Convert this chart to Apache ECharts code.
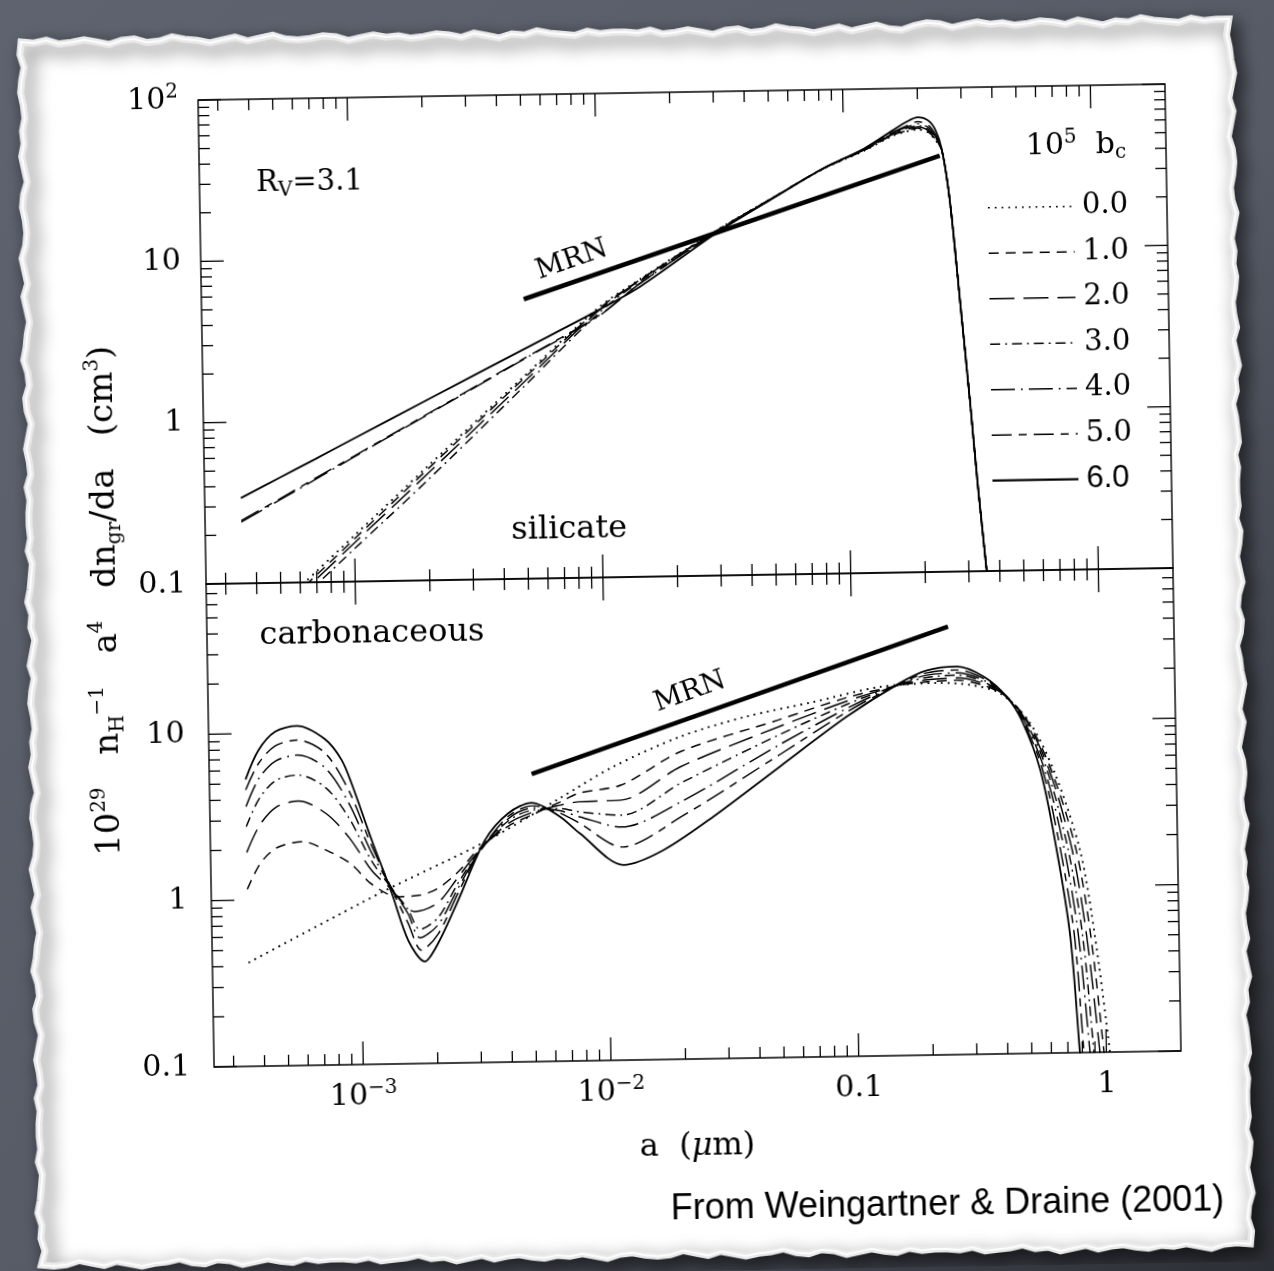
<!DOCTYPE html>
<html>
<head>
<meta charset="utf-8">
<title>Grain size distributions, R_V = 3.1</title>
<script src="https://cdn.jsdelivr.net/npm/echarts@6/dist/echarts.min.js"></script>
<style>
  html, body { margin: 0; padding: 0; width: 1274px; height: 1271px; overflow: hidden;
    background: linear-gradient(135deg, #5e636f 0%, #565b66 55%, #2c2f35 100%); }
  /* the whole sheet sits slightly askew */
  #chart { position: absolute; left: 0; top: 0; width: 1274px; height: 1271px;
    transform-origin: 690px 575px; transform: rotate(-0.95deg); }
</style>
</head>
<body>
<div id="chart"></div>
<script>
// ---------------- data ----------------
// values of 10^5 b_c (carbon abundance in very small grains)
const bcValues = ['0.0', '1.0', '2.0', '3.0', '4.0', '5.0', '6.0'];

// silicate: grain radius a (µm) and 10^29 n_H^-1 a^4 dn/da (cm^3)
const silA  = [3.5e-4, 5e-4, 7e-4, 1e-3, 2e-3, 5e-3, 0.01, 0.0148, 0.0306, 0.0523, 0.0828, 0.121, 0.158, 0.18, 0.2, 0.22, 0.235, 0.249, 0.266, 0.288, 0.311, 0.33, 0.355, 0.37];
const sil00 = [0.044, 0.073, 0.117, 0.193, 0.51, 1.82, 4.7, 7.0, 13.9, 22.0, 32.4, 41.5, 51.0, 54.0, 55.5, 53.0, 47.5, 41.0, 20.1, 4.8, 1.15, 0.35, 0.097, 0.05];
const sil10 = [0.042, 0.070, 0.111, 0.184, 0.49, 1.77, 4.6, 6.95, 13.85, 22.0, 32.5, 41.7, 51.5, 54.5, 56.5, 53.5, 48.0, 41.0, 20.1, 4.8, 1.15, 0.35, 0.097, 0.05];
const sil20 = [0.040, 0.065, 0.105, 0.174, 0.46, 1.68, 4.5, 6.9, 13.8, 22.0, 32.6, 41.9, 52.0, 55.5, 57.5, 54.5, 48.5, 41.0, 20.1, 4.8, 1.15, 0.35, 0.097, 0.05];
const sil30 = [0.037, 0.060, 0.097, 0.160, 0.42, 1.58, 4.35, 6.8, 13.7, 21.9, 32.6, 42.0, 52.5, 56.5, 58.5, 55.5, 49.0, 41.0, 20.1, 4.8, 1.15, 0.35, 0.097, 0.05];
const sil40 = [0.24, 0.325, 0.432, 0.588, 1.06, 2.31, 4.16, 6.6, 13.6, 21.9, 32.6, 42.2, 53.0, 57.5, 60.0, 57.0, 50.0, 41.2, 20.1, 4.8, 1.15, 0.35, 0.097, 0.05];
const sil50 = [0.245, 0.33, 0.44, 0.595, 1.07, 2.33, 4.2, 6.6, 13.6, 21.9, 32.7, 42.4, 53.5, 58.5, 62.0, 59.0, 51.5, 41.3, 20.1, 4.8, 1.15, 0.35, 0.097, 0.05];
const sil60 = [0.338, 0.446, 0.578, 0.764, 1.31, 2.66, 4.54, 6.3, 13.4, 21.8, 32.6, 42.8, 55.0, 62.0, 66.0, 63.0, 55.0, 41.5, 20.1, 4.8, 1.15, 0.35, 0.097, 0.05];

// carbonaceous: [a (µm), 10^29 n_H^-1 a^4 dn/da (cm^3)]
const carb00 = [[3.5e-4,0.42],[1.22e-3,1.08],[3.21e-3,2.12],[6.46e-3,3.8],[0.0107,5.82],[0.02,8.68],[0.0372,11.3],[0.0692,13.6],[0.1288,16.5],[0.2254,17.2],[0.3,16.6],[0.393,14.7],[0.51,10.0],[0.64,5.0],[0.807,1.65],[0.915,0.5],[1.034,0.1],[1.05,0.07]];
const carb10 = [[3.5e-4,1.16],[3.96e-4,1.65],[4.64e-4,2.05],[5.9e-4,2.21],[7.36e-4,1.95],[9.1e-4,1.63],[1.12e-3,1.2],[1.42e-3,1.01],[1.75e-3,1.03],[2.05e-3,1.12],[2.48e-3,1.4],[3.0e-3,1.9],[4.0e-3,2.62],[5.0e-3,3.05],[6.46e-3,3.6],[7.76e-3,4.07],[0.0115,4.51],[0.02,7.05],[0.05,10.7],[0.094,14.3],[0.155,16.8],[0.2,17.5],[0.264,17.8],[0.34,16.4],[0.418,14.0],[0.505,10.0],[0.627,5.0],[0.779,1.65],[0.881,0.5],[0.978,0.1],[0.995,0.07]];
const carb20 = [[3.5e-4,1.93],[3.96e-4,2.8],[4.64e-4,3.6],[5.7e-4,3.89],[7.36e-4,3.25],[9.1e-4,2.31],[1.12e-3,1.45],[1.35e-3,1.1],[1.5e-3,0.9],[1.65e-3,0.82],[2.05e-3,0.92],[2.48e-3,1.3],[3.0e-3,1.85],[4.0e-3,2.72],[5.0e-3,3.15],[6.46e-3,3.45],[7.76e-3,3.61],[0.0115,3.66],[0.02,5.73],[0.05,9.73],[0.094,13.6],[0.155,16.9],[0.2,18.0],[0.264,18.4],[0.34,16.8],[0.418,14.0],[0.50,10.0],[0.615,5.0],[0.751,1.65],[0.848,0.5],[0.942,0.1],[0.96,0.07]];
const carb30 = [[3.5e-4,2.76],[3.96e-4,4.05],[4.64e-4,5.2],[5.7e-4,5.57],[7.36e-4,4.65],[9.1e-4,3.04],[1.12e-3,1.65],[1.35e-3,1.12],[1.55e-3,0.85],[1.73e-3,0.64],[2.05e-3,0.75],[2.48e-3,1.2],[3.0e-3,1.82],[4.0e-3,2.82],[5.0e-3,3.25],[6.46e-3,3.3],[7.76e-3,3.14],[0.0115,2.97],[0.02,4.57],[0.05,8.68],[0.094,13.0],[0.155,17.0],[0.2,18.6],[0.264,19.1],[0.34,17.2],[0.418,14.0],[0.495,10.0],[0.603,5.0],[0.724,1.65],[0.817,0.5],[0.891,0.1],[0.905,0.07]];
const carb40 = [[3.5e-4,3.64],[3.96e-4,5.35],[4.64e-4,6.8],[5.7e-4,7.35],[7.36e-4,6.1],[9.1e-4,3.74],[1.12e-3,1.85],[1.35e-3,1.12],[1.55e-3,0.8],[1.73e-3,0.57],[2.05e-3,0.68],[2.48e-3,1.12],[3.0e-3,1.8],[4.0e-3,2.9],[5.0e-3,3.35],[6.46e-3,3.2],[7.76e-3,2.93],[0.0115,2.52],[0.02,3.53],[0.05,7.56],[0.094,12.3],[0.155,17.1],[0.2,19.2],[0.264,19.7],[0.34,17.6],[0.418,14.0],[0.49,10.0],[0.590,5.0],[0.699,1.65],[0.786,0.5],[0.859,0.1],[0.875,0.07]];
const carb50 = [[3.5e-4,4.59],[3.96e-4,6.6],[4.64e-4,8.4],[5.7e-4,9.04],[7.36e-4,7.5],[9.1e-4,4.48],[1.12e-3,2.05],[1.35e-3,1.1],[1.55e-3,0.7],[1.75e-3,0.48],[2.05e-3,0.6],[2.48e-3,1.05],[3.0e-3,1.78],[4.0e-3,3.0],[5.0e-3,3.45],[6.46e-3,3.1],[7.76e-3,2.68],[0.0115,1.91],[0.02,2.87],[0.05,6.58],[0.094,11.7],[0.155,17.2],[0.2,19.8],[0.264,20.5],[0.34,18.0],[0.418,14.0],[0.485,10.0],[0.579,5.0],[0.674,1.65],[0.757,0.5],[0.812,0.1],[0.826,0.07]];
const carb60 = [[3.5e-4,5.3],[3.96e-4,7.9],[4.64e-4,10.2],[5.68e-4,11.0],[7.36e-4,9.1],[8.57e-4,6.8],[9.37e-4,4.9],[1.12e-3,2.23],[1.337e-3,1.07],[1.55e-3,0.55],[1.8e-3,0.41],[2.05e-3,0.53],[2.48e-3,0.95],[3.21e-3,2.17],[4.0e-3,3.13],[4.98e-3,3.6],[6.46e-3,2.95],[7.76e-3,2.33],[0.0116,1.49],[0.0168,1.81],[0.0269,2.85],[0.0502,5.6],[0.0942,11.0],[0.155,17.3],[0.2,20.5],[0.264,21.5],[0.34,18.5],[0.418,14.0],[0.48,10.0],[0.566,5.0],[0.65,1.66],[0.728,0.5],[0.782,0.1],[0.795,0.07]];

// MRN power law (dn/da ∝ a^-3.5) in each panel
const mrnSil  = [[0.005, 5.4], [0.244, 38.0]];
const mrnCarb = [[0.005, 5.35], [0.245, 37.4]];

// axis ticks and their labels
const xMajorTicks = [1e-3, 1e-2, 0.1, 1];
const xTickLabels = ['10{sup|−3}', '10{sup|−2}', '0.1', '1'];
const xMinorTicks = [3e-4, 4e-4, 5e-4, 6e-4, 7e-4, 8e-4, 9e-4, 2e-3, 3e-3, 4e-3, 5e-3, 6e-3, 7e-3, 8e-3, 9e-3,
  0.02, 0.03, 0.04, 0.05, 0.06, 0.07, 0.08, 0.09, 0.2, 0.3, 0.4, 0.5, 0.6, 0.7, 0.8, 0.9];
const yMajorTicksTop = [0.1, 1, 10, 100];
const yTickLabelsTop = ['0.1', '1', '10', '10{sup|2}'];
const yMinorTicksTop = [0.2, 0.3, 0.4, 0.5, 0.6, 0.7, 0.8, 0.9, 2, 3, 4, 5, 6, 7, 8, 9, 20, 30, 40, 50, 60, 70, 80, 90];
const yMajorTicksBottom = [0.1, 1, 10];
const yTickLabelsBottom = ['0.1', '1', '10'];
const yMinorTicksBottom = [0.2, 0.3, 0.4, 0.5, 0.6, 0.7, 0.8, 0.9, 2, 3, 4, 5, 6, 7, 8, 9, 20, 30, 40, 50, 60, 70];

// ---------------- styling ----------------
const SERIF = 'DejaVu Serif';
const INK = '#000';
const dashFor = {
  '0.0': [1.8, 5],
  '1.0': [10, 7],
  '2.0': [25, 9],
  '3.0': [10, 5, 1.8, 5],
  '4.0': [24, 6, 1.8, 6],
  '5.0': [20, 7, 8, 7],
  '6.0': null
};
const G = { left: 206, width: 967, topTop: 92, topH: 484, botTop: 576, botH: 483 };

const supRich = {
  sup: { fontSize: 20, fontFamily: SERIF, color: INK, verticalAlign: 'top', lineHeight: 12 },
  sub: { fontSize: 20, fontFamily: SERIF, color: INK, verticalAlign: 'bottom', lineHeight: 10 },
  it:  { fontSize: 32, fontFamily: SERIF, color: INK, fontStyle: 'italic' }
};

function labelFor(ticks, labels) {
  return function (v) {
    const i = ticks.findIndex(t => Math.abs(Math.log10(t) - Math.log10(v)) < 1e-6);
    return i >= 0 ? labels[i] : '';
  };
}

function curve(name, data, gi) {
  const d = dashFor[name];
  return {
    type: 'line', name, xAxisIndex: gi, yAxisIndex: gi, data,
    symbol: 'none', showSymbol: false, smooth: 0.3, clip: true, silent: true, z: 3,
    lineStyle: { color: INK, width: name === '6.0' ? 1.8 : (name === '0.0' ? 1.9 : 1.45), type: d || 'solid' }
  };
}

function mrn(data, gi) {
  return { type: 'line', data, xAxisIndex: gi, yAxisIndex: gi, symbol: 'none', silent: true, z: 4,
    lineStyle: { color: INK, width: 4.5, cap: 'butt' } };
}

// tick marks drawn inward on all four sides of a panel
function xTicks(gi, ticks, major) {
  return {
    type: 'custom', xAxisIndex: gi, yAxisIndex: gi, silent: true, z: 5, clip: false,
    data: ticks.map(v => [v, 1]),
    renderItem(params, api) {
      const cs = params.coordSys;
      const x = api.coord([api.value(0), 1])[0];
      const len = major ? 23 : 11;
      const st = { stroke: INK, lineWidth: 1.3 };
      return { type: 'group', children: [
        { type: 'line', shape: { x1: x, y1: cs.y, x2: x, y2: cs.y + len }, style: st },
        { type: 'line', shape: { x1: x, y1: cs.y + cs.height, x2: x, y2: cs.y + cs.height - len }, style: st }
      ] };
    }
  };
}
function yTicks(gi, ticks, major) {
  return {
    type: 'custom', xAxisIndex: gi, yAxisIndex: gi, silent: true, z: 5, clip: false,
    data: ticks.map(v => [0.01, v]),
    renderItem(params, api) {
      const cs = params.coordSys;
      const y = api.coord([0.01, api.value(1)])[1];
      const len = major ? 23 : 11;
      const st = { stroke: INK, lineWidth: 1.3 };
      return { type: 'group', children: [
        { type: 'line', shape: { x1: cs.x, y1: y, x2: cs.x + len, y2: y }, style: st },
        { type: 'line', shape: { x1: cs.x + cs.width, y1: y, x2: cs.x + cs.width - len, y2: y }, style: st }
      ] };
    }
  };
}

// torn paper sheet: fine irregular edge
const EDGE_JITTER = [0, 1, -1, 2, 1, -1, 1, 3, 0, -1, 2, 1, -2, 0, 1, 3, 1, -1, 2, 0, -2, 1, 2, 1, -1, 0, 3, 1, -1, 1, 0, 2,
  1, -1, 0, 2, -1, 1, 3, 0, 1, -2, 0, 1, 2, -1, 1, 0];
function paperPoints() {
  const L = 30, R = 1238, T = 31, B = 1253, n = 96, pts = [];
  const J = i => EDGE_JITTER[i % EDGE_JITTER.length] * 1.3;
  for (let i = 0; i <= n; i++) pts.push([L + (R - L) * i / n, T + J(i) + (i > 70 ? -3 : 0)]);
  for (let i = 1; i <= n; i++) pts.push([R + J(i + 11), T + (B - T) * i / n]);
  for (let i = 1; i <= n; i++) pts.push([R - (R - L) * i / n, B + J(i + 23)]);
  for (let i = 1; i < n; i++) pts.push([L + J(i + 37), B - (B - T) * i / n]);
  return pts;
}

function txt(x, y, text, size, extra) {
  return Object.assign({ type: 'text', x, y, silent: true, z: 10,
    style: Object.assign({ text, fontSize: size, fontFamily: SERIF, fill: INK, lineHeight: size + 6,
      textAlign: 'center', textVerticalAlign: 'middle', rich: supRich }, extra && extra.style) },
    extra && extra.el);
}

const legendY0 = 212.7, legendStep = 45.5;
const legendEls = [];
bcValues.forEach((v, i) => {
  const y = legendY0 + i * legendStep;
  legendEls.push({ type: 'line', silent: true, z: 10,
    shape: { x1: 994, y1: y, x2: 1080, y2: y },
    style: { stroke: INK, lineWidth: v === '6.0' ? 2.2 : 1.4, lineDash: dashFor[v] || null } });
  legendEls.push(txt(1088, y, v, 29, { style: {
    textAlign: 'left', fontFamily: v === '6.0' ? 'Liberation Sans' : SERIF, fontSize: v === '6.0' ? 31 : 29 } }));
});

const silSeries = [sil00, sil10, sil20, sil30, sil40, sil50, sil60]
  .map((ys, k) => curve(bcValues[k], silA.map((a, i) => [a, ys[i]]), 0));
const carbSeries = [carb00, carb10, carb20, carb30, carb40, carb50, carb60]
  .map((d, k) => curve(bcValues[k], d, 1));

const chart = echarts.init(document.getElementById('chart'), null, { renderer: 'canvas', width: 1274, height: 1271 });

const axisLabelBase = { color: INK, fontFamily: SERIF, fontSize: 30, lineHeight: 36, rich: supRich };

chart.setOption({
  animation: false,
  backgroundColor: 'transparent',
  grid: [
    { left: G.left, top: G.topTop, width: G.width, height: G.topH, show: true, borderColor: INK, borderWidth: 1.4,
      containLabel: false, outerBoundsMode: 'none' },
    { left: G.left, top: G.botTop, width: G.width, height: G.botH, show: true, borderColor: INK, borderWidth: 1.4,
      containLabel: false, outerBoundsMode: 'none' }
  ],
  xAxis: [
    { type: 'log', logBase: 10, gridIndex: 0, min: 2.5e-4, max: 2,
      axisLine: { show: false }, axisTick: { show: false }, axisLabel: { show: false }, splitLine: { show: false } },
    { type: 'log', logBase: 10, gridIndex: 1, min: 2.5e-4, max: 2,
      axisLine: { show: false }, axisTick: { show: false }, splitLine: { show: false },
      axisLabel: Object.assign({ margin: 14, formatter: labelFor(xMajorTicks, xTickLabels) }, axisLabelBase) }
  ],
  yAxis: [
    { type: 'log', logBase: 10, gridIndex: 0, min: 0.1, max: 100,
      axisLine: { show: false }, axisTick: { show: false }, splitLine: { show: false },
      axisLabel: Object.assign({ margin: 20, formatter: labelFor(yMajorTicksTop, yTickLabelsTop) }, axisLabelBase) },
    { type: 'log', logBase: 10, gridIndex: 1, min: 0.1, max: 80,
      axisLine: { show: false }, axisTick: { show: false }, splitLine: { show: false },
      axisLabel: Object.assign({ margin: 24, formatter: labelFor(yMajorTicksBottom, yTickLabelsBottom) }, axisLabelBase) }
  ],
  series: [
    ...silSeries,
    ...carbSeries,
    mrn(mrnSil, 0),
    mrn(mrnCarb, 1),
    xTicks(0, xMajorTicks, true), xTicks(0, xMinorTicks, false),
    xTicks(1, xMajorTicks, true), xTicks(1, xMinorTicks, false),
    yTicks(0, yMajorTicksTop, true), yTicks(0, yMinorTicksTop, false),
    yTicks(1, yMajorTicksBottom, true), yTicks(1, yMinorTicksBottom, false)
  ],
  graphic: [
    { type: 'polygon', z: -10, silent: true, shape: { points: paperPoints() },
      style: { fill: '#ffffff', stroke: '#e9e9e9', lineWidth: 7,
        shadowBlur: 18, shadowColor: 'rgba(0,0,0,0.6)', shadowOffsetX: 6, shadowOffsetY: 7 } },
    { type: 'polygon', z: -9, silent: true, shape: { points: paperPoints() },
      style: { fill: 'none', stroke: 'rgba(255,255,255,0.9)', lineWidth: 2 } },
    txt(316, 176, 'R{sub|V}=3.1', 29),
    txt(570, 528, 'silicate', 32),
    txt(371, 629, 'carbonaceous', 32),
    txt(577, 258, 'MRN', 28, { el: { rotation: 18 * Math.PI / 180 } }),
    txt(688, 692, 'MRN', 28, { el: { rotation: 18.6 * Math.PI / 180 } }),
    txt(1083, 152, '10{sup|5}  b{sub|c}', 30),
    ...legendEls,
    txt(106, 591, '10{sup|29}   n{sub|H}{sup|−1}   a{sup|4}   dn{sub|gr}/da   (cm{sup|3})', 34,
      { el: { rotation: Math.PI / 2 } }),
    txt(688, 1147, 'a  ({it|μ}m)', 32),
    txt(937, 1209, 'From Weingartner & Draine (2001)', 36, { style: { fontFamily: 'Liberation Sans' } })
  ]
});
</script>
</body>
</html>
